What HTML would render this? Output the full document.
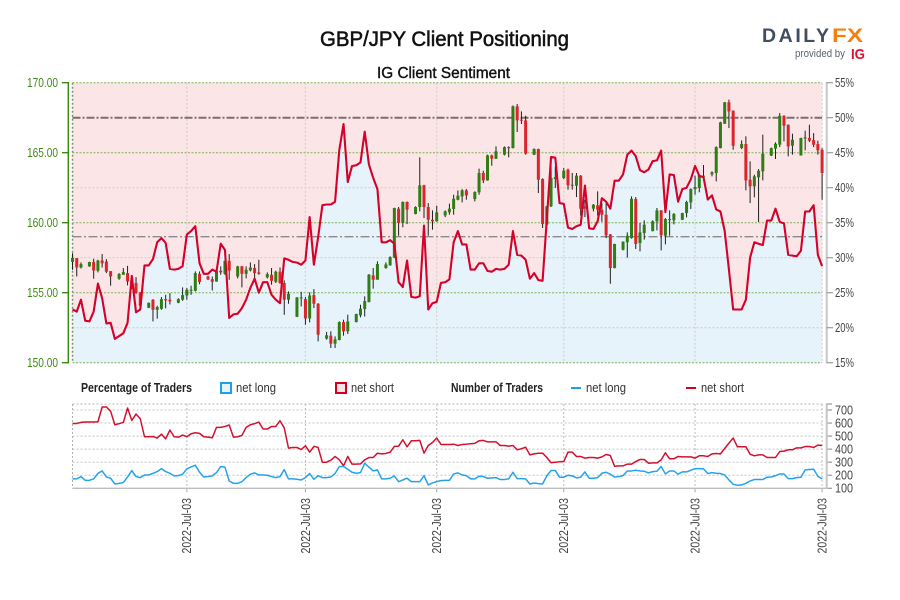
<!DOCTYPE html>
<html>
<head>
<meta charset="utf-8">
<title>GBP/JPY Client Positioning</title>
<style>
html,body{margin:0;padding:0;background:#fff;}
svg{display:block;}
text{font-family:"Liberation Sans",sans-serif;}
</style>
</head>
<body>
<svg id="chart" xmlns="http://www.w3.org/2000/svg" width="900" height="600" viewBox="0 0 900 600">
  <rect x="0" y="0" width="900" height="600" fill="#ffffff"/>
  <text x="320" y="46" font-size="21.5" fill="#111" stroke="#111" stroke-width="0.55" textLength="249" lengthAdjust="spacingAndGlyphs">GBP/JPY Client Positioning</text>
  <text x="377" y="78" font-size="15.5" fill="#111" stroke="#111" stroke-width="0.4" textLength="133" lengthAdjust="spacingAndGlyphs">IG Client Sentiment</text>

  <g>
    <text x="762" y="42" font-size="19.5" font-weight="bold" fill="#414e5e" textLength="67" lengthAdjust="spacing">DAILY</text>
    <text x="832" y="42" font-size="19.5" font-weight="bold" fill="#f57f0f" textLength="31" lengthAdjust="spacingAndGlyphs">FX</text>
    <text x="795" y="57" font-size="11" fill="#5b6470" textLength="50" lengthAdjust="spacingAndGlyphs">provided by</text>
    <text x="851" y="59" font-size="15" font-weight="bold" fill="#e0102f" textLength="14" lengthAdjust="spacingAndGlyphs">IG</text>
  </g>

  <g id="price-panel"></g>

  <g>
    <text x="81" y="392" font-size="12.5" font-weight="bold" fill="#222" textLength="111" lengthAdjust="spacingAndGlyphs">Percentage of Traders</text>
    <rect x="221" y="383" width="10" height="10" fill="#e6f3fb" stroke="#1e9fe8" stroke-width="2"/>
    <text x="236" y="392" font-size="12.5" fill="#333" textLength="40" lengthAdjust="spacingAndGlyphs">net long</text>
    <rect x="336" y="383" width="10" height="10" fill="#f7e4e6" stroke="#d0021b" stroke-width="2"/>
    <text x="351" y="392" font-size="12.5" fill="#333" textLength="43" lengthAdjust="spacingAndGlyphs">net short</text>
    <text x="451" y="392" font-size="12.5" font-weight="bold" fill="#222" textLength="92" lengthAdjust="spacingAndGlyphs">Number of Traders</text>
    <line x1="571" y1="388" x2="581" y2="388" stroke="#1e9fe8" stroke-width="2"/>
    <text x="586" y="392" font-size="12.5" fill="#333" textLength="40" lengthAdjust="spacingAndGlyphs">net long</text>
    <line x1="686" y1="388" x2="696" y2="388" stroke="#d0021b" stroke-width="2"/>
    <text x="701" y="392" font-size="12.5" fill="#333" textLength="43" lengthAdjust="spacingAndGlyphs">net short</text>
  </g>

  <g id="count-panel"></g>
</svg>

<script>
var priceTicks = [150, 155, 160, 165, 170];
var percentTicks = [15, 20, 25, 30, 35, 40, 45, 50, 55];
var countTicks = [100, 200, 300, 400, 500, 600, 700];
var xTickSlots = [27, 55, 86, 116, 147, 177];
var xTickLabels = ["2022-Jul-03", "2022-Jul-03", "2022-Jul-03", "2022-Jul-03", "2022-Jul-03", "2022-Jul-03"];
var referenceLevels = [50, 33];

var sentiment = [
22.6,22.3,24.0,21.0,20.9,22.3,26.3,24.2,20.6,20.7,
18.4,18.8,19.2,20.7,27.4,22.2,22.6,28.9,28.9,29.8,
32.2,32.8,32.1,28.4,28.3,28.4,28.8,33.3,33.8,34.5,
29.2,27.7,27.7,28.3,28.0,32.0,31.1,21.4,21.9,22.0,
22.8,24.0,25.7,27.0,25.0,26.5,26.5,24.7,24.0,23.5,
29.9,29.7,29.4,29.3,29.0,29.6,35.8,29.0,32.9,37.5,
37.6,37.6,38.0,45.4,49.1,40.8,43.1,43.2,43.6,48.0,
43.3,41.4,39.8,32.2,32.2,32.5,32.0,26.5,25.8,29.6,
24.4,24.3,24.5,34.6,22.6,23.5,23.7,26.4,26.5,26.9,
32.2,33.8,31.9,31.9,28.3,28.3,29.2,29.2,28.1,28.0,
28.4,28.3,28.4,29.0,33.8,30.4,30.3,29.7,27.0,27.8,
26.8,26.7,35.5,44.4,44.3,37.8,37.7,34.3,34.1,34.5,
34.7,40.3,34.2,34.1,35.2,38.5,38.0,37.0,41.0,41.0,
41.9,44.7,45.3,44.5,42.5,42.2,42.6,43.8,43.9,45.3,
36.5,41.9,41.8,38.0,39.8,40.0,41.2,43.1,41.7,41.5,
38.3,38.9,36.9,36.6,33.8,28.3,22.6,22.6,22.6,24.0,
30.0,32.2,32.0,31.8,35.3,35.3,37.0,35.1,34.9,30.4,
30.3,30.2,31.0,36.6,36.6,37.5,30.4,28.8];

var candleSlots = [
0,1,2,4,5,6,7,8,9,11,12,13,14,15,16,18,19,20,21,22,23,25,26,27,28,29,30,
32,33,34,35,36,37,39,40,41,42,43,44,46,47,48,49,50,51,53,54,55,56,57,58,
60,61,62,63,64,65,67,68,69,70,71,72,74,75,76,77,78,79,81,82,83,84,85,86,
88,89,90,91,92,93,95,96,97,98,99,100,102,103,104,105,106,107,109,110,111,112,113,114,
116,117,118,119,120,121,123,124,125,126,127,128,130,131,132,133,134,135,
137,138,139,140,141,142,144,145,146,147,148,149,151,152,153,154,155,156,
158,159,160,161,162,163,165,166,167,168,169,170,172,173,174,175,176,177];

var opens = [
157.2,157.47,156.8,156.88,157.19,156.57,157.3,157.23,156.54,156.0,156.28,156.4,155.88,155.69,155.04,153.92,154.5,153.78,153.85,154.54,154.5,154.28,154.5,154.8,155.14,155.14,156.35,
156.16,155.97,155.8,156.57,156.35,157.28,156.16,156.88,156.35,156.59,156.76,156.45,156.09,156.28,155.78,156.5,155.69,154.5,153.28,154.59,154.54,153.16,154.83,154.21,
151.72,151.93,151.36,151.62,152.9,152.24,152.9,153.38,153.83,154.33,156.24,155.93,156.76,156.95,157.52,161.0,159.98,161.48,160.62,161.12,162.67,161.12,160.21,160.1,
160.52,160.74,160.98,161.64,161.88,162.31,161.69,162.17,163.55,163.02,164.81,164.57,164.86,165.33,165.33,168.31,167.36,167.31,164.86,165.26,163.12,159.86,161.17,163.12,
163.19,163.79,162.67,162.64,163.36,161.17,161.0,161.24,160.93,160.57,159.17,156.76,158.07,158.6,158.9,161.69,158.55,159.26,
159.4,160.1,160.88,159.07,160.19,160.17,160.21,160.69,161.45,162.4,162.48,163.29,163.45,163.55,165.33,167.07,168.6,168.0,
165.33,165.62,163.07,162.6,163.24,163.67,164.79,165.29,165.57,167.64,167.0,165.5,164.81,166.02,166.05,165.9,165.62,165.21];

var highs = [
157.83,157.47,157.16,157.21,157.42,157.35,157.76,157.4,156.54,156.4,156.76,156.92,156.21,156.11,155.04,154.3,154.54,154.07,154.69,154.85,154.97,154.6,155.38,155.33,155.5,156.52,156.52,
156.21,156.16,156.57,156.88,157.3,157.76,156.92,156.92,156.88,157.16,157.04,157.35,156.45,156.76,156.57,156.8,155.88,155.09,154.69,155.07,154.69,155.02,155.26,154.26,
152.2,152.24,151.88,152.95,153.07,153.43,153.5,154.14,154.74,156.33,156.76,157.24,157.17,157.6,161.07,161.12,161.52,161.52,161.17,164.67,162.71,161.4,160.88,161.21,
160.88,161.36,162.0,162.31,162.4,162.4,162.24,163.86,163.71,164.86,164.86,165.45,165.45,165.45,168.38,168.48,167.95,167.64,165.31,165.29,163.17,161.21,164.67,164.02,
163.9,163.86,163.55,163.55,163.4,161.64,161.33,162.24,161.4,161.4,159.19,158.5,158.67,159.31,161.88,161.83,159.98,160.17,
160.17,161.05,160.9,160.33,160.88,160.69,160.71,161.57,162.45,163.36,163.43,164.12,163.67,165.45,167.21,168.62,168.79,168.02,
165.88,166.17,164.38,163.43,163.83,166.29,165.36,165.74,167.83,167.67,167.02,166.36,166.07,166.57,167.0,166.4,165.86,165.33];

var lows = [
156.64,156.16,156.73,156.85,156.0,156.45,156.8,156.4,155.5,155.92,156.28,155.52,155.26,154.92,153.97,153.9,152.95,153.14,153.78,153.88,154.16,154.25,154.42,154.5,154.85,155.09,155.6,
155.9,155.16,155.78,156.28,156.28,155.92,156.02,155.38,156.02,156.52,156.04,156.28,156.02,155.57,155.69,155.64,153.42,154.21,153.26,154.02,152.71,152.88,153.9,151.52,
151.65,151.05,151.05,151.6,151.93,152.05,152.88,153.24,153.3,154.31,155.29,155.93,156.71,156.93,157.48,159.07,159.67,159.9,160.6,160.81,160.33,159.07,159.5,160.07,
160.4,160.57,160.57,161.6,161.45,161.64,161.52,162.0,162.83,163.0,164.07,164.55,164.81,164.67,165.31,166.48,167.05,164.86,164.83,162.12,159.62,159.83,161.12,162.48,
163.12,162.36,162.36,161.83,160.5,160.4,160.81,160.5,160.07,158.9,155.64,156.74,158.02,157.5,158.86,158.12,157.95,158.79,
159.38,159.45,158.02,158.45,159.07,159.88,160.19,160.38,160.98,162.0,162.17,163.21,163.31,162.95,165.31,167.05,166.76,165.21,
165.26,162.31,161.4,161.81,160.05,163.02,164.76,164.55,165.4,165.81,164.74,164.86,164.79,165.17,165.76,165.4,164.86,161.64];

var closes = [
157.5,156.8,157.04,157.19,156.59,157.3,157.1,156.5,156.16,156.33,156.47,155.8,155.64,154.97,154.07,154.28,153.78,153.97,154.54,154.45,154.38,154.54,154.83,155.21,155.21,156.4,155.76,
155.95,155.78,156.52,156.45,157.28,156.59,156.88,156.35,156.64,156.8,156.4,156.35,156.33,155.85,156.5,155.69,154.5,154.92,154.66,154.66,153.16,154.8,154.21,152.0,
151.96,151.36,151.67,152.9,152.24,152.95,153.48,153.86,154.4,156.29,155.93,157.05,157.02,157.55,161.05,159.98,161.48,160.93,161.12,162.67,161.12,160.21,160.1,160.74,
160.81,161.0,161.71,161.93,162.31,161.95,162.19,163.55,163.02,164.81,164.57,165.1,165.4,165.4,168.31,167.31,167.29,164.93,165.26,163.07,159.9,161.17,163.19,163.26,
163.71,162.67,162.71,163.36,161.0,161.0,161.29,160.93,160.57,159.1,156.76,158.48,158.64,159.07,161.71,158.48,159.31,159.86,
160.1,160.88,159.1,160.26,160.26,160.62,160.69,161.48,162.4,162.55,163.4,163.36,163.6,165.4,167.17,168.6,167.95,165.5,
165.62,163.02,162.6,163.31,163.71,164.93,165.33,165.64,167.64,166.93,165.45,165.93,166.05,166.1,165.86,165.57,165.17,163.55];

var netLongCount = [
172,172,190,161,161,172,215,233,187,177,
133,138,144,187,236,190,182,202,202,215,
228,251,228,215,195,197,208,249,264,277,
223,187,190,195,220,267,262,156,138,138,
151,182,208,218,202,202,200,190,182,190,
244,172,172,169,164,182,213,169,197,182,
182,187,213,267,267,246,223,215,220,292,
262,233,241,172,172,177,195,151,164,177,
151,151,151,197,126,141,151,159,161,161,
210,218,202,197,172,172,192,190,177,180,
182,167,167,172,223,174,174,172,133,141,
136,133,195,236,236,185,185,200,195,180,
185,226,177,177,182,215,223,208,187,190,
197,233,233,238,233,231,218,228,231,267,
210,233,233,208,226,226,238,251,251,249,
213,220,215,213,202,164,131,123,126,138,
156,167,167,167,185,187,197,210,210,174,
174,182,185,241,244,246,192,172];

var netShortCount = [
597,597,605,608,608,608,610,723,723,690,
587,595,605,715,620,669,633,495,495,497,
485,515,479,546,495,492,508,495,518,526,
521,495,492,487,567,567,574,585,492,495,
505,567,587,595,608,554,554,574,574,618,
562,408,413,413,397,426,377,421,413,300,
300,315,344,318,272,344,285,285,287,318,
336,336,369,364,367,377,421,423,472,418,
464,464,467,369,428,451,485,436,436,436,
438,428,436,438,441,444,464,467,456,456,
456,428,428,423,428,395,403,415,356,364,
369,369,336,297,300,303,305,377,377,344,
344,331,336,336,331,341,359,351,269,272,
272,285,285,305,321,321,292,295,295,318,
372,326,326,344,341,341,341,331,349,349,
344,364,367,364,405,446,485,418,418,418,
361,349,356,356,336,336,336,382,385,395,
395,410,410,420,420,413,431,428];

var SVGNS = "http://www.w3.org/2000/svg";
var pricePanel = document.getElementById("price-panel");
var countPanel = document.getElementById("count-panel");

function x(slot) { return 72.5 + 4.235 * slot; }
function yPrice(v) { return 362.7 - (v - 150) * 14; }
function yPercent(v) { return 362.7 - (v - 15) * 7; }
function yCount(v) { return 488.3 - (v - 100) * 0.1305; }

var plotLeft = x(0);
var plotRight = x(177);

function make(parent, tag, attrs, content) {
  var el = document.createElementNS(SVGNS, tag);
  for (var k in attrs) { el.setAttribute(k, attrs[k]); }
  if (content !== undefined) { el.textContent = content; }
  parent.appendChild(el);
  return el;
}
function pointsFor(values, yFn) {
  var pts = [];
  for (var i = 0; i < values.length; i++) { pts.push(x(i).toFixed(2) + "," + yFn(values[i]).toFixed(2)); }
  return pts;
}

var el;

/* backgrounds */
el = make(pricePanel, "rect", {x: plotLeft, y: yPrice(170), width: plotRight - plotLeft, height: yPrice(150) - yPrice(170), fill: "#fbe5e6"});



el = make(pricePanel, "polygon", {
  points: plotLeft + "," + yPrice(150) + " " + pointsFor(sentiment, yPercent).join(" ") + " " + plotRight + "," + yPrice(150),
  fill: "#e6f3fb"
});



/* percent grid */
percentTicks.forEach(function (p) {
  if ((p % 10) !== 0 || p === 50) { return; }
  var g = make(pricePanel, "line", {x1: plotLeft, x2: plotRight, y1: yPercent(p), y2: yPercent(p), stroke: "#d3c8cc", "stroke-width": 1, "stroke-dasharray": "2 2"});
  
  
});

/* vertical grid */
xTickSlots.forEach(function (s) {
  var g = make(pricePanel, "line", {x1: x(s), x2: x(s), y1: yPrice(170), y2: yPrice(150), stroke: "#d6d0d4", "stroke-width": 1.2, "stroke-dasharray": "2 2"});
  
  
});

/* left border */
el = make(pricePanel, "line", {x1: plotLeft, x2: plotLeft, y1: yPrice(170), y2: yPrice(150), stroke: "#7d8a78", "stroke-width": 1.5, "stroke-dasharray": "2 2"});



/* price grid */
priceTicks.forEach(function (p) {
  var g = make(pricePanel, "line", {x1: plotLeft, x2: plotRight, y1: yPrice(p), y2: yPrice(p), stroke: "#7fb25a", "stroke-width": 1, "stroke-dasharray": "2 1.5"});
  
  
});

/* reference levels */
el = make(pricePanel, "line", {x1: plotLeft, x2: plotRight, y1: yPercent(referenceLevels[0]), y2: yPercent(referenceLevels[0]), stroke: "#7b6f70", "stroke-width": 2, "stroke-dasharray": "8 2 2 2"});


el = make(pricePanel, "line", {x1: plotLeft, x2: plotRight, y1: yPercent(referenceLevels[1]), y2: yPercent(referenceLevels[1]), stroke: "#8b8a8c", "stroke-width": 1.3, "stroke-dasharray": "9 2.5 2 2.5"});



/* candles */
candleSlots.forEach(function (slot, i) {
  var up = closes[i] >= opens[i];
  var g = make(pricePanel, "g", {});
  
  
  var wick = make(g, "line", {x1: x(slot), x2: x(slot), y1: yPrice(highs[i]), y2: yPrice(lows[i]), stroke: "#1f1f1f", "stroke-width": 1});
  
  
  var top = yPrice(Math.max(opens[i], closes[i]));
  var bot = yPrice(Math.min(opens[i], closes[i]));
  var body = make(g, "rect", {x: x(slot) - 1.5, y: top, width: 3, height: Math.max(bot - top, 1), fill: up ? "#2f7d14" : "#d9252b"});
  
  
});

/* sentiment line */
el = make(pricePanel, "polyline", {points: pointsFor(sentiment, yPercent).join(" "), fill: "none", stroke: "#d4012a", "stroke-width": 2.1, "stroke-linejoin": "round"});



/* left axis */
el = make(pricePanel, "line", {x1: 68.3, x2: 68.3, y1: yPrice(170) - 0.7, y2: yPrice(150) + 0.7, stroke: "#3b8c10", "stroke-width": 1.5});


priceTicks.forEach(function (p) {
  var t = make(pricePanel, "line", {x1: 62, x2: 68.3, y1: yPrice(p), y2: yPrice(p), stroke: "#3b8c10", "stroke-width": 1.4});
  
  
  var l = make(pricePanel, "text", {x: 27, y: yPrice(p) + 4.4, "font-size": 12.6, fill: "#3f8c14", textLength: 31, lengthAdjust: "spacingAndGlyphs"}, p.toFixed(2));
  
  
});

/* right axis */
el = make(pricePanel, "line", {x1: 826.7, x2: 826.7, y1: yPrice(170) - 0.7, y2: yPrice(150) + 0.7, stroke: "#c6c6c6", "stroke-width": 2});


percentTicks.forEach(function (p) {
  var t = make(pricePanel, "line", {x1: 826.7, x2: 833, y1: yPercent(p), y2: yPercent(p), stroke: "#9a9a9a", "stroke-width": 1.2});
  
  
  var l = make(pricePanel, "text", {x: 835, y: yPercent(p) + 4.4, "font-size": 12.6, fill: "#444", textLength: 19, lengthAdjust: "spacingAndGlyphs"}, p + "%");
  
  
});

/* count panel grid */
el = make(countPanel, "line", {x1: plotLeft, x2: plotRight, y1: 404, y2: 404, stroke: "#b5b5b5", "stroke-width": 1, "stroke-dasharray": "2 2"});


countTicks.forEach(function (c) {
  if (c > 100) {
    var g = make(countPanel, "line", {x1: plotLeft, x2: plotRight, y1: yCount(c), y2: yCount(c), stroke: "#c4c4c4", "stroke-width": 1, "stroke-dasharray": "2 2"});
    
    
  }
  var t = make(countPanel, "line", {x1: 826.7, x2: 832, y1: yCount(c), y2: yCount(c), stroke: "#9a9a9a", "stroke-width": 1.2});
  
  
  var l = make(countPanel, "text", {x: 835, y: yCount(c) + 4.4, "font-size": 12.6, fill: "#444", textLength: 18, lengthAdjust: "spacingAndGlyphs"}, String(c));
  
  
});
el = make(countPanel, "line", {x1: plotLeft, x2: plotLeft, y1: 404, y2: yCount(100), stroke: "#b0b0b0", "stroke-width": 1, "stroke-dasharray": "2 2"});



xTickSlots.forEach(function (s, i) {
  var g = make(countPanel, "line", {x1: x(s), x2: x(s), y1: 404, y2: yCount(100), stroke: "#bdbdbd", "stroke-width": 1, "stroke-dasharray": "2 2"});
  
  
  var t = make(countPanel, "line", {x1: x(s), x2: x(s), y1: yCount(100), y2: yCount(100) + 4, stroke: "#a8a8a8", "stroke-width": 1});
  
  
  var l = make(countPanel, "text", {x: 0, y: 0, transform: "translate(" + (x(s) + 4.4) + ",553.5) rotate(-90)", "font-size": 12.6, fill: "#444", textLength: 55.5, lengthAdjust: "spacingAndGlyphs"}, xTickLabels[i]);
  
  
});

el = make(countPanel, "line", {x1: plotLeft, x2: 827, y1: yCount(100), y2: yCount(100), stroke: "#bdbdbd", "stroke-width": 1.4});


el = make(countPanel, "line", {x1: 826.7, x2: 826.7, y1: 403.5, y2: yCount(100) + 0.7, stroke: "#c6c6c6", "stroke-width": 2});


el = make(countPanel, "line", {x1: 826.7, x2: 832, y1: 404, y2: 404, stroke: "#9a9a9a", "stroke-width": 1.2});



/* count series */
el = make(countPanel, "polyline", {points: pointsFor(netShortCount, yCount).join(" "), fill: "none", stroke: "#d4102f", "stroke-width": 1.5, "stroke-linejoin": "round"});


el = make(countPanel, "polyline", {points: pointsFor(netLongCount, yCount).join(" "), fill: "none", stroke: "#25a3ea", "stroke-width": 1.5, "stroke-linejoin": "round"});


</script>
</body>
</html>
